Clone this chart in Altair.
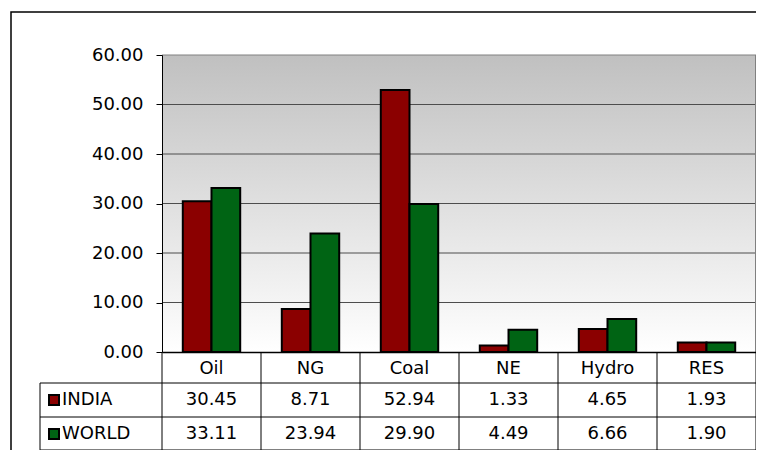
import altair as alt
import pandas as pd

CATEGORIES = ["Oil", "NG", "Coal", "NE", "Hydro", "RES"]
INDIA = [30.45, 8.71, 52.94, 1.33, 4.65, 1.93]
WORLD = [33.11, 23.94, 29.90, 4.49, 6.66, 1.90]
SERIES = ["INDIA", "WORLD"]
COLORS = ["#8B0000", "#006414"]
Y_TICKS = [0, 10, 20, 30, 40, 50, 60]

rows = []
for name, vals in zip(SERIES, [INDIA, WORLD]):
    for c, v in zip(CATEGORIES, vals):
        rows.append({"cat": c, "series": name, "value": v})
df = pd.DataFrame(rows)
cats_df = pd.DataFrame({"cat": CATEGORIES})
ser_df = pd.DataFrame({"series": SERIES})
grid_df = pd.DataFrame({"v": Y_TICKS[1:]})

W, H = 594, 297
PAD_L, PAD_T, PAD_B = 154, 47, 98
FONT = "DejaVu Sans"
FS = 18
ROW_Y = {"INDIA": 345, "WORLD": 379}
LINES_Y = [328, 362, 395]

xs_bar = alt.Scale(domain=CATEGORIES, paddingInner=0.42, paddingOuter=0.21)
xs_tab = alt.Scale(domain=CATEGORIES, paddingInner=0, paddingOuter=0)
ys = alt.Scale(domain=[0, 60], nice=False)
cs = alt.Scale(domain=SERIES, range=COLORS)

y_axis = alt.Axis(values=Y_TICKS, format=".2f", grid=False, title=None,
                  tickSize=6, tickColor="black", domainColor="black",
                  labelFont=FONT, labelFontSize=FS, labelColor="black",
                  labelPadding=13, zindex=1)

one = alt.Data(values=[{"k": 1}])

frame = alt.Chart(one).mark_rect(fill="white", stroke="black", strokeWidth=1.5).encode(
    x=alt.value(-151), x2=alt.value(W + 20), y=alt.value(-43), y2=alt.value(H + PAD_B + 20)
)

grad = alt.Chart(one).mark_rect(
    color=alt.LinearGradient(
        gradient="linear",
        stops=[alt.GradientStop(color="#C0C0C0", offset=0),
               alt.GradientStop(color="#FFFFFF", offset=1)],
        x1=0, x2=0, y1=0, y2=1,
    )
).encode(x=alt.value(0), x2=alt.value(W), y=alt.value(0), y2=alt.value(H))

grid = alt.Chart(grid_df).mark_rule(strokeWidth=1).encode(
    y=alt.Y("v:Q", scale=ys, axis=y_axis),
    color=alt.condition("datum.v == 60", alt.value("#808080"), alt.value("#4d4d4d")),
)

right_border = alt.Chart(one).mark_rule(color="#808080", strokeWidth=1).encode(
    x=alt.value(W - 0.5), y=alt.value(0), y2=alt.value(LINES_Y[-1])
)

bars = alt.Chart(df).mark_bar(stroke="black", strokeWidth=2).encode(
    x=alt.X("cat:N", scale=xs_bar, sort=CATEGORIES,
            axis=alt.Axis(title=None, labelAngle=0, ticks=False, domainColor="black",
                          domainWidth=1.5, labelFont=FONT, labelFontSize=FS,
                          labelColor="black", labelBaseline="middle", labelPadding=16,
                          zindex=1)),
    xOffset=alt.XOffset("series:N", sort=SERIES),
    y=alt.Y("value:Q", scale=ys, axis=y_axis),
    color=alt.Color("series:N", scale=cs, legend=None),
)

layers = [frame, grad, grid, right_border, bars]

for ly in LINES_Y:
    layers.append(
        alt.Chart(one).mark_rule(color="black", strokeWidth=1).encode(
            x=alt.value(-122), x2=alt.value(W), y=alt.value(ly)
        )
    )
layers.append(
    alt.Chart(one).mark_rule(color="black", strokeWidth=1).encode(
        x=alt.value(-122), y=alt.value(LINES_Y[0]), y2=alt.value(LINES_Y[-1])
    )
)
layers.append(
    alt.Chart(cats_df).mark_rule(color="black", strokeWidth=1).encode(
        x=alt.X("cat:N", scale=xs_tab, sort=CATEGORIES, bandPosition=0, axis=None),
        y=alt.value(H), y2=alt.value(LINES_Y[-1]),
    )
)

for s in SERIES:
    layers.append(
        alt.Chart(df).transform_filter(alt.datum.series == s).mark_text(
            font=FONT, fontSize=FS, color="black", baseline="middle"
        ).encode(
            x=alt.X("cat:N", scale=xs_tab, sort=CATEGORIES, axis=None),
            y=alt.value(ROW_Y[s]),
            text=alt.Text("value:Q", format=".2f"),
        )
    )
    layers.append(
        alt.Chart(ser_df).transform_filter(alt.datum.series == s).mark_square(
            size=100, filled=True, opacity=1, stroke="black", strokeWidth=2
        ).encode(
            x=alt.value(-108), y=alt.value(ROW_Y[s]),
            color=alt.Color("series:N", scale=cs, legend=None),
        )
    )
    layers.append(
        alt.Chart(ser_df).transform_filter(alt.datum.series == s).mark_text(
            font=FONT, fontSize=FS, color="black", align="left", baseline="middle"
        ).encode(
            x=alt.value(-100), y=alt.value(ROW_Y[s]), text="series:N"
        )
    )

chart = alt.layer(*layers).resolve_scale(x="independent").properties(
    width=W, height=H,
    autosize=alt.AutoSizeParams(type="none"),
    padding={"left": PAD_L, "top": PAD_T, "right": 0, "bottom": PAD_B},
    background="white",
).configure_view(stroke=None)

chart.save("out.html", embed_options={"renderer": "svg", "actions": False})
